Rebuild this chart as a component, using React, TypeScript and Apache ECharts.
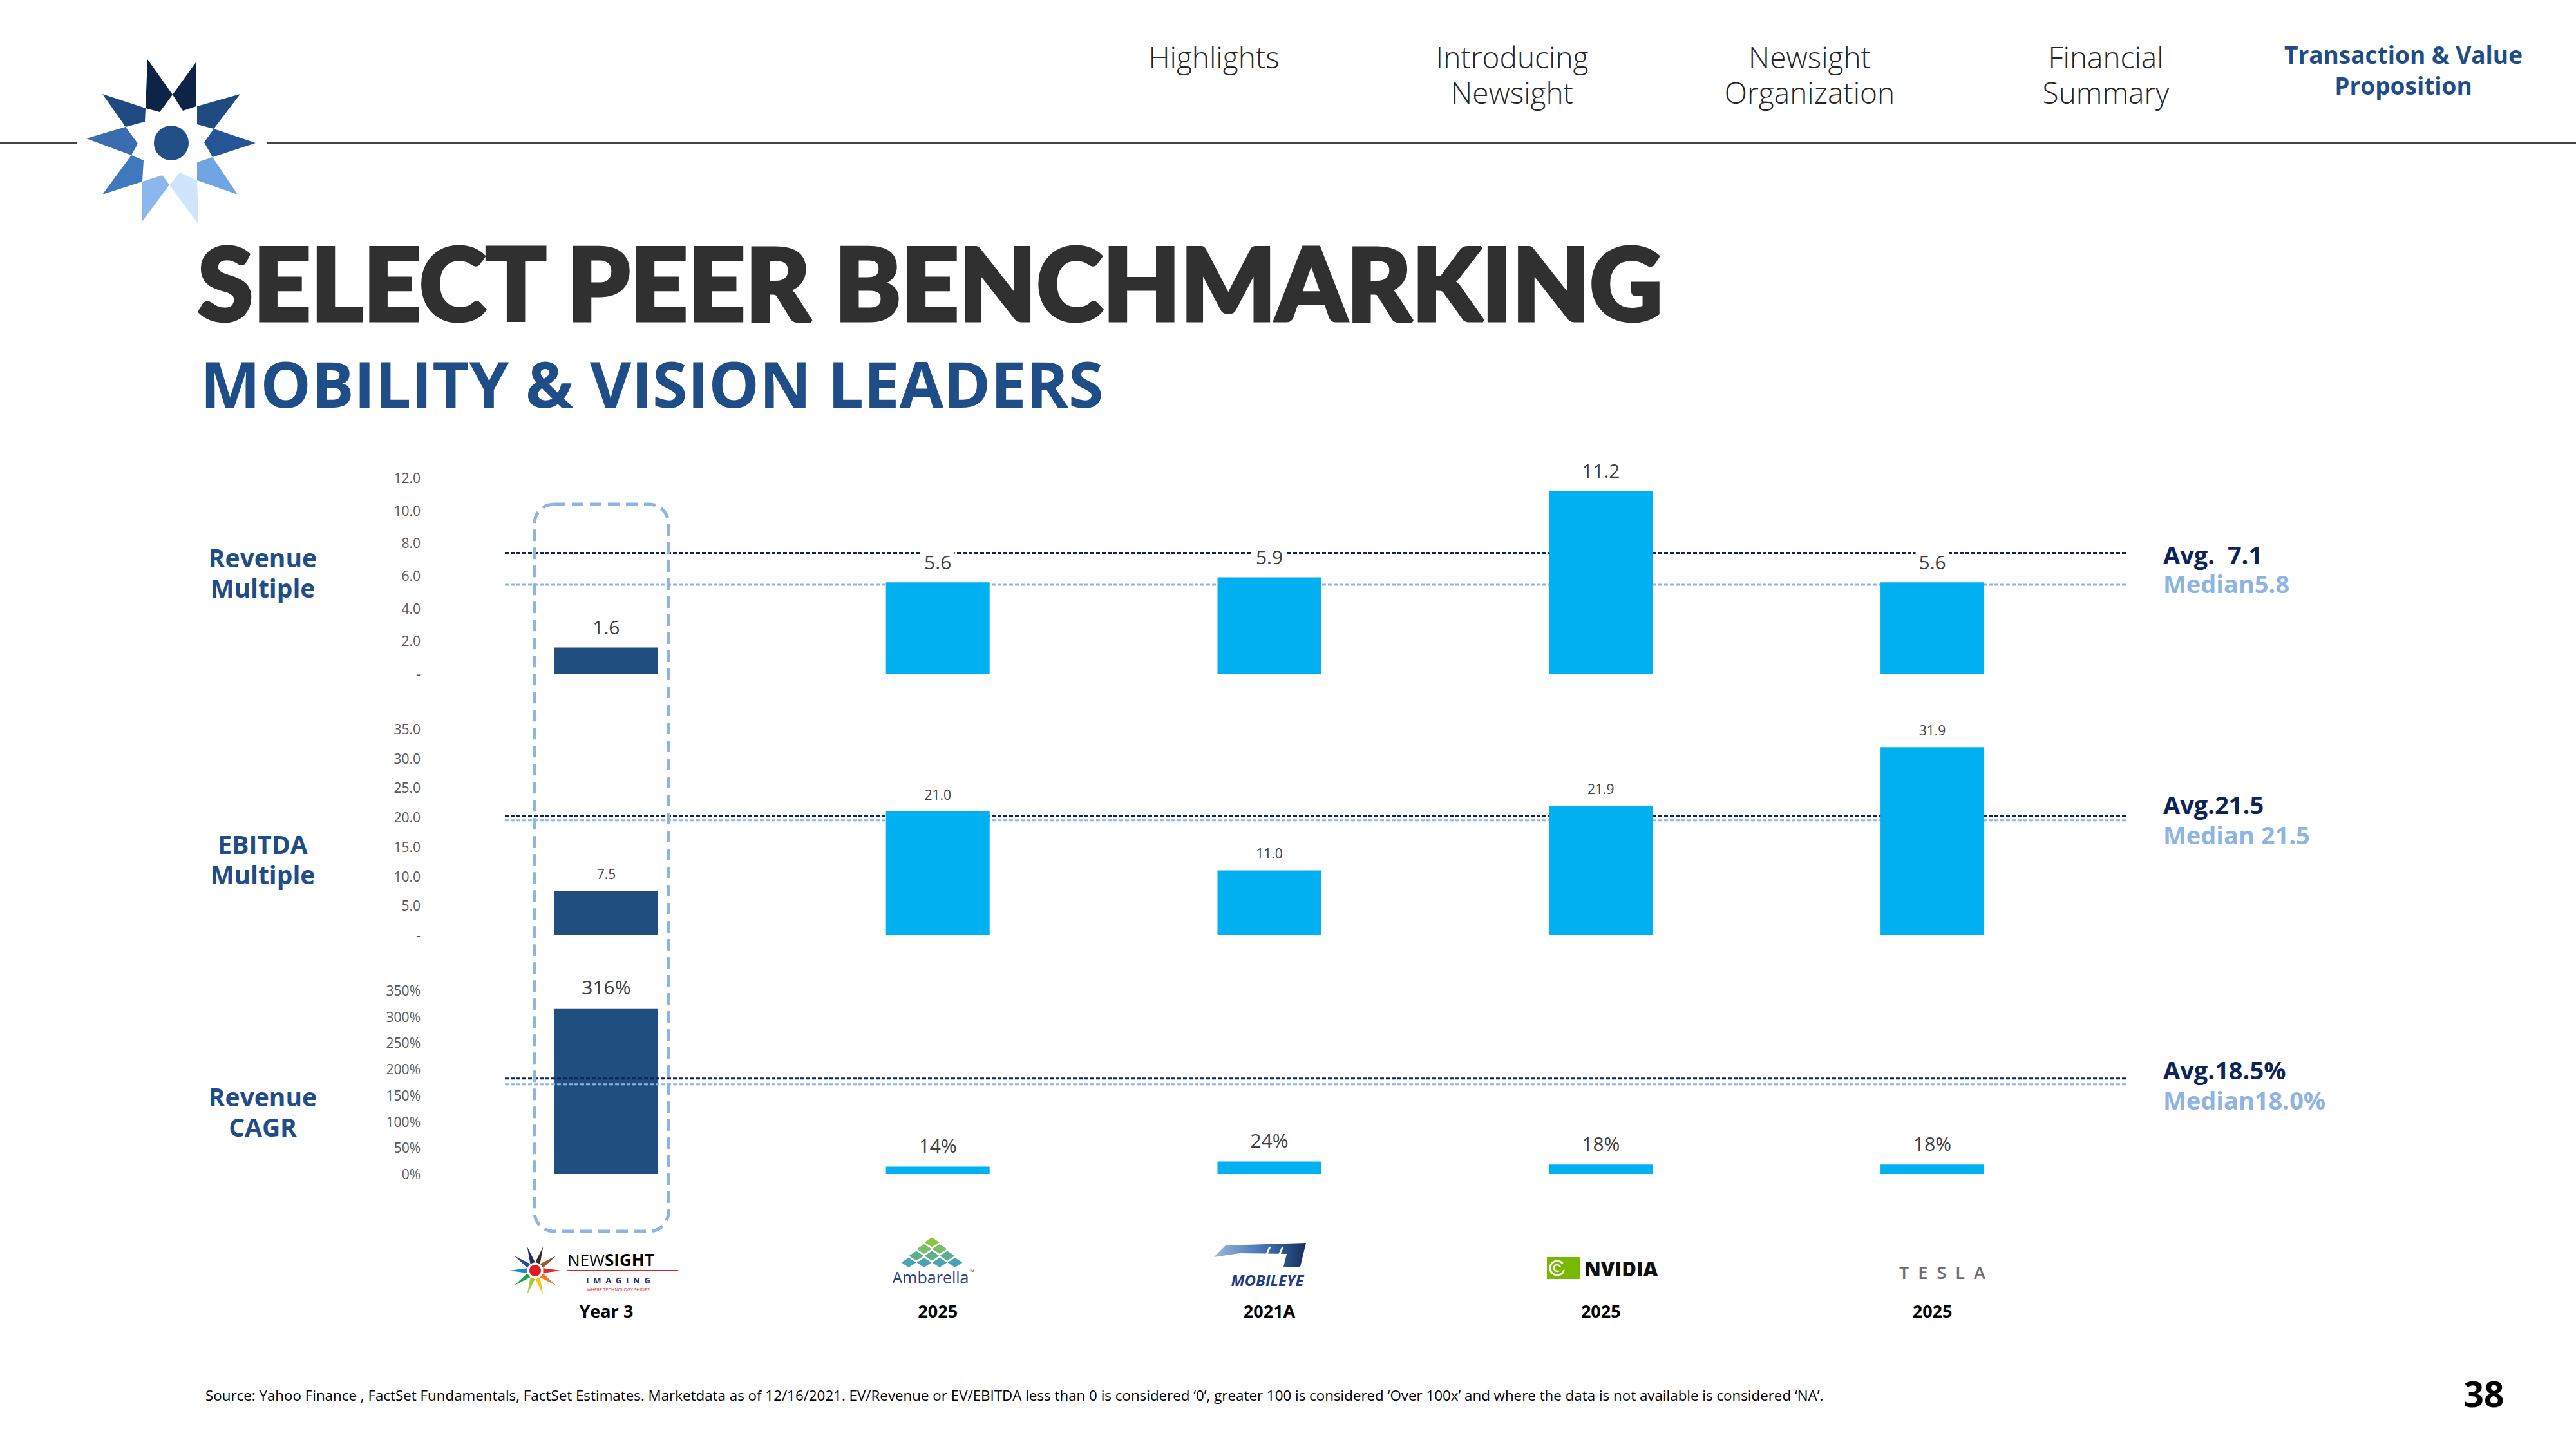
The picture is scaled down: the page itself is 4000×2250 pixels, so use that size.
import React, { useEffect, useRef } from 'react';
import * as echarts from 'echarts';

// ---------- data ----------
const companies = ['Newsight Imaging', 'Ambarella', 'Mobileye', 'NVIDIA', 'Tesla'];
const periods = ['Year 3', '2025', '2021A', '2025', '2025'];
const revenueMultiple = [1.6, 5.6, 5.9, 11.2, 5.6];
const ebitdaMultiple = [7.5, 21.0, 11.0, 21.9, 31.9];
const revenueCagr = [316, 14, 24, 18, 18];

const metricLabels = ['Revenue\nMultiple', 'EBITDA\nMultiple', 'Revenue\nCAGR'];
const axisMax = [12, 35, 350];
const axisInterval = [2, 5, 50];
const avgTexts = ['Avg.  7.1', 'Avg.21.5', 'Avg.18.5%'];
const medianTexts = ['Median5.8', 'Median 21.5', 'Median18.0%'];
// where the drawn average / median guide lines sit on each axis
const avgLineAt = [7.4, 20.2, 182];
const medianLineAt = [5.45, 19.5, 171];

const navItems = ['Highlights', 'Introducing\nNewsight', 'Newsight\nOrganization', 'Financial\nSummary'];
const activeNav = 'Transaction & Value\nProposition';
const titleText = 'SELECT PEER BENCHMARKING';
const subtitleText = 'MOBILITY & VISION LEADERS';
const sourceText =
  'Source: Yahoo Finance , FactSet Fundamentals, FactSet Estimates. Marketdata as of 12/16/2021. EV/Revenue or EV/EBITDA less than 0 is considered \u20180\u2019, greater 100 is considered \u2018Over 100x\u2019 and where the data is not available is considered \u2018NA\u2019.';
const pageNumber = '38';

// ---------- style / layout ----------
const NAVY = '#1f4e7f';
const CYAN = '#00b0f0';
const AVG = '#0c2458';
const MED = '#8db4e2';
const HEAD_BLUE = '#1f4d87';
const FONT = 'Open Sans';

const GRID_LEFT = 684;
const GRID_WIDTH = 2574;
const gridTops = [742, 1132, 1538];
const gridHeights = [304, 320, 285];
const labelSizes = [30, 21, 30];
const labelDist = [15, 14, 16];
const seriesData = [revenueMultiple, ebitdaMultiple, revenueCagr];

function txt(x: number, y: number, text: string, o: any = {}) {
  return {
    type: 'text',
    x,
    y,
    z: o.z ?? 20,
    style: {
      text,
      fill: o.fill ?? '#000',
      fontSize: o.fontSize ?? 20,
      fontFamily: o.fontFamily ?? FONT,
      fontWeight: o.fontWeight ?? 'normal',
      fontStyle: o.fontStyle ?? 'normal',
      align: o.align ?? 'left',
      verticalAlign: o.verticalAlign ?? 'middle',
      lineHeight: o.lineHeight,
      rich: o.rich,
      stroke: o.stroke,
      lineWidth: o.lineWidth,
    },
  };
}

function poly(points: number[][], fill: any, z = 20) {
  return { type: 'polygon', z, shape: { points }, style: { fill } };
}

function buildOption() {
  return {
    animation: false,
    backgroundColor: '#ffffff',
    grid: gridTops.map((t, i) => ({ left: GRID_LEFT, width: GRID_WIDTH, top: t, height: gridHeights[i] })),
    xAxis: [0, 1, 2].map((i) => ({
      type: 'category',
      gridIndex: i,
      data: companies,
      axisLine: { show: false },
      axisTick: { show: false },
      splitLine: { show: false },
      axisLabel:
        i === 2
          ? {
              show: true,
              formatter: (_v: string, idx: number) => periods[idx],
              margin: 212,
              verticalAlign: 'middle',
              fontSize: 27,
              fontWeight: 'bold',
              color: '#000',
              fontFamily: FONT,
            }
          : { show: false },
    })),
    yAxis: [0, 1, 2].map((i) => ({
      type: 'value',
      gridIndex: i,
      min: 0,
      max: axisMax[i],
      interval: axisInterval[i],
      axisLine: { show: false },
      axisTick: { show: false },
      splitLine: { show: false },
      axisLabel: {
        margin: 31,
        fontSize: 21,
        color: '#595959',
        fontFamily: FONT,
        formatter: i === 2 ? (v: number) => v + '%' : (v: number) => (v === 0 ? '-' : v.toFixed(1)),
      },
    })),
    series: [0, 1, 2].map((i) => ({
      type: 'bar',
      name: metricLabels[i].replace('\n', ' '),
      xAxisIndex: i,
      yAxisIndex: i,
      barWidth: 161,
      z: 2,
      data: seriesData[i].map((v, j) => ({ value: v, itemStyle: { color: j === 0 ? NAVY : CYAN } })),
      label: {
        show: true,
        position: 'top',
        distance: labelDist[i],
        fontSize: labelSizes[i],
        color: '#404040',
        fontFamily: FONT,
        backgroundColor: '#ffffff',
        padding: [2, 5],
        formatter: (p: any) => (i === 2 ? p.value + '%' : Number(p.value).toFixed(1)),
      },
    })),
  };
}

function headerStar() {
  const els: any[] = [
    poly([[229, 92], [268, 147], [248, 174], [226, 168]], '#0e2446'),
    poly([[304, 97], [305, 165], [284, 172], [268, 147]], '#0e2446'),
    poly([[159, 146], [226, 168], [225, 189], [195, 197]], '#1f4a80'),
    poly([[373, 146], [306, 165], [306, 193], [332, 200]], '#1f4a80'),
    poly([[134, 215], [195, 197], [214, 223], [204, 241]], '#3a6db0'),
    poly([[397, 222], [332, 200], [317, 221], [330, 244]], '#255497'),
    poly([[159, 302], [204, 241], [223, 249], [221, 282]], '#3f78bd'),
    poly([[369, 302], [330, 244], [306, 252], [306, 280]], '#6fa5e3'),
    poly([[220, 345], [221, 282], [252, 272], [263, 287]], '#8ab8ec'),
    poly([[308, 348], [306, 280], [279, 268], [263, 287]], '#d0e4fb'),
    { type: 'circle', z: 20, shape: { cx: 266, cy: 222, r: 27 }, style: { fill: '#234f88' } },
  ];
  return els;
}

function newsightLogo() {
  const cx = 831, cy = 1973;
  const colors = ['#222a6b', '#3a2a20', '#9a5a25', '#e0282e', '#f47a20', '#f7c21b', '#a6c93a', '#2aa048', '#1e88c8', '#2b4a9b'];
  const els: any[] = [];
  for (let k = 0; k < 10; k++) {
    const a = ((-108 + 36 * k) * Math.PI) / 180;
    const b1 = a - 0.3, b2 = a + 0.3;
    els.push(
      poly(
        [
          [cx + 40 * Math.cos(a), cy + 39 * Math.sin(a)],
          [cx + 13 * Math.cos(b1), cy + 13 * Math.sin(b1)],
          [cx + 13 * Math.cos(b2), cy + 13 * Math.sin(b2)],
        ],
        colors[k]
      )
    );
  }
  els.push({ type: 'circle', z: 21, shape: { cx, cy, r: 9 }, style: { fill: '#e41b23' } });
  els.push(
    txt(881, 1956, '{a|NEW}{b|SIGHT}', {
      rich: {
        a: { fontSize: 26, fontFamily: FONT, color: '#2b3077', fontWeight: 'normal' },
        b: { fontSize: 26, fontFamily: FONT, color: '#2b3077', fontWeight: 'bold' },
      },
    })
  );
  els.push({
    type: 'line',
    z: 20,
    shape: { x1: 881, y1: 1973, x2: 1053, y2: 1973 },
    style: { stroke: '#d9232d', lineWidth: 2 },
  });
  els.push(txt(960, 1988, 'I  M  A  G  I  N  G', { fontSize: 13, fontWeight: 'bold', fill: '#2b3077', align: 'center' }));
  els.push(txt(960, 2002, 'WHERE TECHNOLOGY SHINES', { fontSize: 7, fill: '#d9232d', align: 'center' }));
  return els;
}

function ambarellaLogo() {
  const els: any[] = [];
  const rowColors = ['#8dc63f', '#78bd6c', '#5fae8e', '#4ba2b1'];
  for (let r = 0; r < 4; r++) {
    const y = 1929 + r * 10.5;
    for (let j = 0; j <= r; j++) {
      const x = 1447 + (j - r / 2) * 24;
      els.push(poly([[x, y - 7.5], [x + 11.5, y], [x, y + 7.5], [x - 11.5, y]], rowColors[r]));
    }
  }
  els.push(txt(1445, 1983, 'Ambarella', { fontSize: 25, fill: '#2e3f7f', align: 'center' }));
  els.push(txt(1506, 1974, '\u2122', { fontSize: 9, fill: '#2e3f7f' }));
  return els;
}

function mobileyeLogo() {
  const grad = new echarts.graphic.LinearGradient(0, 0, 1, 0, [
    { offset: 0, color: '#9fb8d8' },
    { offset: 0.45, color: '#4f7fbf' },
    { offset: 1, color: '#14305f' },
  ]);
  const els: any[] = [
    poly([[1885, 1952], [1903, 1934], [2028, 1930], [2019, 1967], [1993, 1967], [1998, 1947], [1925, 1946]], grad),
    { type: 'line', z: 21, shape: { x1: 1958, y1: 1967, x2: 1972, y2: 1936 }, style: { stroke: '#fff', lineWidth: 3 } },
    { type: 'line', z: 21, shape: { x1: 1978, y1: 1967, x2: 1992, y2: 1936 }, style: { stroke: '#fff', lineWidth: 3 } },
    txt(1968, 1987, 'MOBILEYE', { fontSize: 24, fontWeight: 'bold', fontStyle: 'italic', fill: '#1f3c88', align: 'center' }),
  ];
  return els;
}

function nvidiaLogo() {
  return [
    { type: 'rect', z: 20, shape: { x: 2402, y: 1952, width: 51, height: 34 }, style: { fill: '#76b900' } },
    { type: 'arc', z: 21, shape: { cx: 2418, cy: 1969, r: 11, startAngle: 0.3, endAngle: 5.6 }, style: { stroke: '#fff', lineWidth: 3, fill: 'none' } },
    { type: 'arc', z: 21, shape: { cx: 2418, cy: 1969, r: 5, startAngle: 1, endAngle: 5.9 }, style: { stroke: '#fff', lineWidth: 2.5, fill: 'none' } },
    txt(2460, 1970, 'NVIDIA', { fontSize: 31, fontWeight: 800, fill: '#111' }),
  ];
}

function teslaLogo() {
  return [txt(3016, 1975, 'T  E  S  L  A', { fontSize: 27, fontWeight: 600, fill: '#6d6d6d', align: 'center' })];
}

function buildGraphics(chart: any) {
  const els: any[] = [];
  // header rule
  els.push({ type: 'line', z: 5, shape: { x1: 0, y1: 222, x2: 120, y2: 222 }, style: { stroke: '#444', lineWidth: 4 } });
  els.push({ type: 'line', z: 5, shape: { x1: 415, y1: 222, x2: 4000, y2: 222 }, style: { stroke: '#444', lineWidth: 4 } });
  els.push(...headerStar());
  // navigation
  const navX = [1885, 2348, 2810, 3270];
  navItems.forEach((t, i) => {
    const multi = t.includes('\n');
    els.push(
      txt(navX[i], multi ? 115.5 : 88, t, { fontSize: 46, fontWeight: 300, fill: '#262626', align: 'center', lineHeight: 55 })
    );
  });
  els.push(txt(3732, 108, activeNav, { fontSize: 37, fontWeight: 'bold', fill: HEAD_BLUE, align: 'center', lineHeight: 48 }));
  // titles
  els.push(
    txt(307, 437, titleText, {
      fontSize: 156,
      fontWeight: 900,
      fontFamily: 'Lato',
      fill: '#303030',
      stroke: '#303030',
      lineWidth: 5,
      lineHeight: 118,
    })
  );
  els.push(txt(311, 594, subtitleText, { fontSize: 99, fontWeight: 'bold', fill: HEAD_BLUE, lineHeight: 90 }));
  // row labels
  const rowY = [889, 1334, 1726];
  metricLabels.forEach((t, i) =>
    els.push(txt(408, rowY[i], t, { fontSize: 39, fontWeight: 'bold', fill: HEAD_BLUE, align: 'center', lineHeight: 47 }))
  );
  // avg / median texts
  const avgY = [861, 1249, 1661];
  const medY = [906, 1296, 1708];
  for (let i = 0; i < 3; i++) {
    els.push(txt(3359, avgY[i], avgTexts[i], { fontSize: 38, fontWeight: 'bold', fill: AVG }));
    els.push(txt(3359, medY[i], medianTexts[i], { fontSize: 38, fontWeight: 'bold', fill: MED }));
  }
  // avg / median guide lines positioned through the axis scales
  for (let i = 0; i < 3; i++) {
    const ya = chart.convertToPixel({ yAxisIndex: i }, avgLineAt[i]);
    const ym = chart.convertToPixel({ yAxisIndex: i }, medianLineAt[i]);
    const z = i === 2 ? 10 : 1;
    els.push({ type: 'line', z, shape: { x1: 784, y1: ya, x2: 3304, y2: ya }, style: { stroke: AVG, lineWidth: 3, lineDash: [6, 3] } });
    els.push({ type: 'line', z, shape: { x1: 784, y1: ym, x2: 3304, y2: ym }, style: { stroke: MED, lineWidth: 3, lineDash: [6, 3] } });
  }
  // highlight frame around Newsight
  els.push({
    type: 'rect',
    z: 11,
    shape: { x: 830, y: 783, width: 208, height: 1129, r: 30 },
    style: { fill: 'none', stroke: MED, lineWidth: 5, lineDash: [18, 10] },
  });
  // logos
  els.push(...newsightLogo(), ...ambarellaLogo(), ...mobileyeLogo(), ...nvidiaLogo(), ...teslaLogo());
  // footer
  els.push(txt(319, 2166, sourceText, { fontSize: 22.35, fill: '#000' }));
  els.push(txt(3857, 2163, pageNumber, { fontSize: 55, fontWeight: 'bold', fill: '#000', align: 'center' }));
  return els;
}

export default function App() {
  const ref = useRef<HTMLDivElement>(null);
  useEffect(() => {
    if (!ref.current) return;
    const chart = echarts.init(ref.current, null, { renderer: 'svg' });
    chart.setOption(buildOption());
    chart.setOption({ graphic: { elements: buildGraphics(chart) } });
    return () => chart.dispose();
  }, []);
  return (
    <div
      ref={ref}
      style={{ position: 'fixed', left: 0, top: 0, width: 4000, height: 2250, background: '#ffffff' }}
    />
  );
}
